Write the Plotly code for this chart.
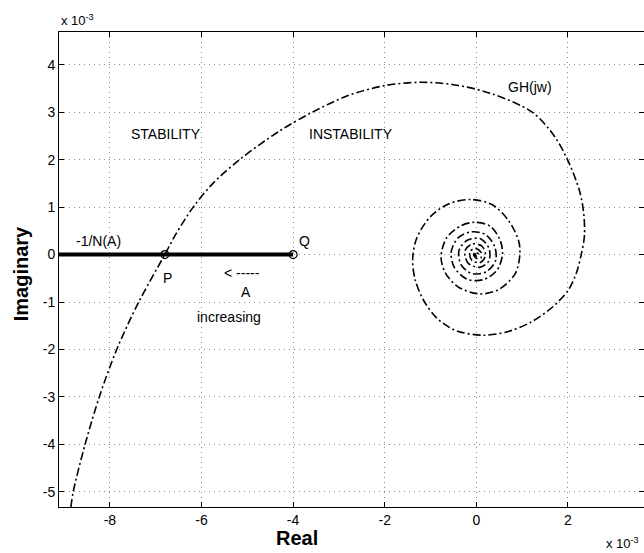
import plotly.graph_objects as go

# GH(jw) curve (units of 1e-3)
gh_re = [-8.85, -8.8, -8.54, -8.23, -7.85, -7.37, -6.8, -6.56, -6.18, -5.76, -5.17, -4.3, -3.58, -2.8, -2.0,
         -1.24, -0.5, 0.3, 1.22, 1.7, 1.99, 2.25, 2.34, 2.36, 2.29, 2.18, 2.0, 1.67, 1.2, 0.7, 0.14,
         -0.45, -0.85, -1.13, -1.33, -1.39, -1.3, -1.0, -0.6, -0.12, 0.35, 0.7, 0.92, 0.95, 0.85,
         0.5, 0.07, -0.4, -0.68, -0.77, -0.65, -0.35, -0.04, 0.3, 0.52, 0.57, 0.45, 0.15, -0.2,
         -0.48, -0.55, -0.4, -0.1, 0.2, 0.4, 0.42, 0.22, -0.1, -0.33, -0.38, -0.2, 0.1, 0.28,
         0.27, 0.07, -0.18, -0.25, -0.1, 0.12, 0.2, 0.08, -0.1, -0.14, -0.02, 0.1, 0.1, 0.0, -0.06,
         0.0, 0.05, 0.02, -0.03, 0.0]
gh_im = [-5.32, -5.0, -4.0, -3.0, -2.0, -1.0, 0.0, 0.43, 1.0, 1.49, 2.0, 2.6, 3.0, 3.35, 3.56,
         3.63, 3.58, 3.4, 3.0, 2.5, 2.0, 1.35, 0.9, 0.4, 0.0, -0.4, -0.76, -1.1, -1.42, -1.62, -1.7,
         -1.6, -1.35, -1.0, -0.55, -0.1, 0.35, 0.8, 1.07, 1.16, 1.05, 0.72, 0.3, 0.0, -0.4,
         -0.73, -0.83, -0.68, -0.38, -0.05, 0.35, 0.6, 0.68, 0.6, 0.3, 0.0, -0.33, -0.53, -0.52,
         -0.27, 0.05, 0.35, 0.48, 0.42, 0.17, -0.13, -0.36, -0.4, -0.22, 0.08, 0.3, 0.33, 0.12,
         -0.14, -0.27, -0.18, 0.07, 0.22, 0.18, -0.02, -0.17, -0.12, 0.06, 0.13, 0.05, -0.07, -0.08, 0.0,
         0.05, 0.0, -0.04, 0.0, 0.02]

# -1/N(A) locus
dfl_re = [-9.11, -4.0]
dfl_im = [0.0, 0.0]

# Points P and Q
pt_re = [-6.8, -4.0]
pt_im = [0.0, 0.0]

x_ticks = [-8, -6, -4, -2, 0, 2]
y_ticks = [-5, -4, -3, -2, -1, 0, 1, 2, 3, 4]

# text labels
lab_text = ["STABILITY", "INSTABILITY", "GH(jw)", "-1/N(A)", "Q", "P", "< -----", "A", "increasing"]
lab_x = [-6.77, -2.73, 1.18, -8.25, -3.76, -6.75, -5.11, -5.03, -5.39]
lab_y = [2.55, 2.55, 3.54, 0.29, 0.29, -0.5, -0.39, -0.79, -1.32]

FONT = "Liberation Sans, Arial, sans-serif"

fig = go.Figure()
fig.add_trace(go.Scatter(x=dfl_re, y=dfl_im, mode="lines",
                         line=dict(color="black", width=4), showlegend=False))
fig.add_trace(go.Scatter(x=gh_re, y=gh_im, mode="lines",
                         line=dict(color="black", width=1.6, dash="8px,3px,2px,3px", shape="spline", smoothing=0.9),
                         showlegend=False))
fig.add_trace(go.Scatter(x=pt_re, y=pt_im, mode="markers",
                         marker=dict(symbol="circle-open", size=8, color="black", line=dict(width=1.2)),
                         showlegend=False))

for t, x, y in zip(lab_text, lab_x, lab_y):
    fig.add_annotation(x=x, y=y, text=t, showarrow=False,
                       font=dict(family=FONT, size=14, color="black"))

fig.add_annotation(xref="paper", yref="paper", x=0.0, y=1.0, xanchor="left", yanchor="bottom",
                   yshift=2, text="x 10<sup>-3</sup>", showarrow=False,
                   font=dict(family=FONT, size=13, color="black"))
fig.add_annotation(xref="paper", yref="paper", x=0.995, y=0.0, xanchor="right", yanchor="top",
                   yshift=-26, text="x 10<sup>-3</sup>", showarrow=False,
                   font=dict(family=FONT, size=13, color="black"))
fig.add_annotation(xref="paper", yref="paper", x=0.407, y=0.0, xanchor="center", yanchor="top",
                   yshift=-18, text="<b>Real</b>", showarrow=False,
                   font=dict(family=FONT, size=20, color="black"))
fig.add_annotation(xref="paper", yref="paper", x=0.0, y=0.49, xanchor="center", yanchor="middle",
                   xshift=-38, textangle=-90, text="<b>Imaginary</b>", showarrow=False,
                   font=dict(family=FONT, size=20, color="black"))

axis_common = dict(showline=True, linecolor="black", linewidth=1, mirror="ticks",
                   ticks="inside", ticklen=5, tickcolor="black", automargin=False,
                   showgrid=True, gridcolor="#8c8c8c", griddash="1px,4px", gridwidth=1,
                   zeroline=False, tickfont=dict(family=FONT, size=14, color="black"))

fig.update_xaxes(range=[-9.11, 3.66], tickvals=x_ticks, ticktext=[str(v) for v in x_ticks], **axis_common)
fig.update_yaxes(range=[-5.32, 4.69], tickvals=y_ticks, ticktext=[str(v) for v in y_ticks], **axis_common)

fig.update_layout(width=644, height=553, plot_bgcolor="white", paper_bgcolor="white",
                  margin=dict(l=59, r=0, t=32, b=46, autoexpand=False), showlegend=False)

fig.write_html("out.html", config={"displayModeBar": False},
               post_script="document.body.style.margin='0';document.body.style.overflow='hidden';")
